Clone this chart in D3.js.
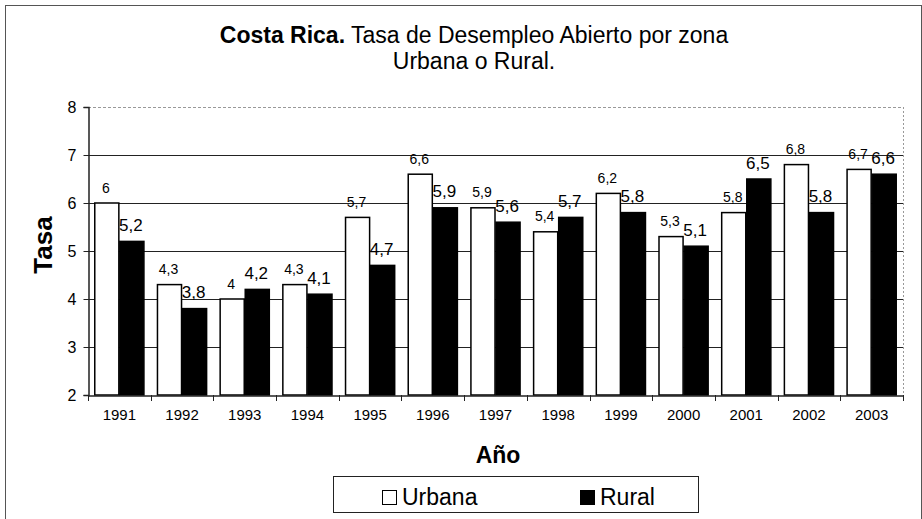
<!DOCTYPE html>
<html>
<head>
<meta charset="utf-8">
<script src="https://cdn.jsdelivr.net/npm/d3@7"></script>
<style>
  body { margin: 0; background: #fff; }
  svg text { font-family: "Liberation Sans", Arial, sans-serif; }
</style>
</head>
<body>
<div id="chart"></div>
<script>
// data
var years = ["1991","1992","1993","1994","1995","1996","1997","1998","1999","2000","2001","2002","2003"]
var urbana = [6, 4.3, 4, 4.3, 5.7, 6.6, 5.9, 5.4, 6.2, 5.3, 5.8, 6.8, 6.7]
var rural = [5.2, 3.8, 4.2, 4.1, 4.7, 5.9, 5.6, 5.7, 5.8, 5.1, 6.5, 5.8, 6.6]
var yTicks = [2, 3, 4, 5, 6, 7, 8]
var seriesNames = ["Urbana", "Rural"]

var sheet = {w: 922, h: 519, left: 88, right: 903, top: 107, bottom: 395}

var svg = d3.select("#chart").append("svg")
    .attr("width", sheet.w)
    .attr("height", sheet.h)

// outer frame
svg.append("rect")
    .attr("x", 5.5).attr("y", 5.5)
    .attr("width", sheet.w - 6).attr("height", sheet.h - 4)
    .attr("fill", "none")
    .attr("stroke", "#555")
    .attr("stroke-width", 1)

// title
var title = svg.append("text")
    .attr("x", 474).attr("y", 43)
    .attr("text-anchor", "middle")
    .style("font-size", "23px")
title.append("tspan").attr("font-weight", "bold").text("Costa Rica.")
title.append("tspan").text(" Tasa de Desempleo Abierto por zona")
svg.append("text")
    .attr("x", 474).attr("y", 69)
    .attr("text-anchor", "middle")
    .style("font-size", "23px")
    .text("Urbana o Rural.")

var x = d3.scaleBand()
    .domain(years)
    .range([sheet.left, sheet.right])
    .paddingInner(0.2)
    .paddingOuter(0.1)

var xs = d3.scaleBand()
    .domain(seriesNames)
    .range([0, x.bandwidth()])

var y = d3.scaleLinear()
    .domain([2, 8])
    .range([sheet.bottom, sheet.top])

// gridlines
svg.append("g")
    .selectAll("line")
    .data(yTicks.slice(1))
    .enter()
    .append("line")
    .attr("x1", sheet.left).attr("x2", sheet.right)
    .attr("y1", function(d){ return Math.round(y(d)) + 0.5 })
    .attr("y2", function(d){ return Math.round(y(d)) + 0.5 })
    .attr("stroke", function(d){ return d == 8 ? "#999" : "#222" })
    .attr("stroke-dasharray", function(d){ return d == 8 ? "3,2" : null })

// right border of plot
svg.append("line")
    .attr("x1", sheet.right + 0.5).attr("x2", sheet.right + 0.5)
    .attr("y1", sheet.top).attr("y2", sheet.bottom)
    .attr("stroke", "#999")
    .attr("stroke-dasharray", "2,2")

// bars
var rows = years.map(function(yr, i){
    return {year: yr, vals: [
        {name: "Urbana", v: urbana[i]},
        {name: "Rural", v: rural[i]}
    ]}
})

var groups = svg.append("g").selectAll("g")
    .data(rows)
    .enter()
    .append("g")
    .attr("transform", function(d){ return "translate(" + x(d.year) + ",0)" })

groups.selectAll("rect")
    .data(function(d){ return d.vals })
    .enter()
    .append("rect")
    .attr("x", function(d){ return xs(d.name) + 0.5 })
    .attr("y", function(d){ return y(d.v) })
    .attr("width", xs.bandwidth() - 1)
    .attr("height", function(d){ return sheet.bottom - y(d.v) })
    .attr("fill", function(d){ return d.name == "Urbana" ? "#fff" : "#000" })
    .attr("stroke", "#000")
    .attr("stroke-width", 1.5)

// value labels
groups.selectAll("text")
    .data(function(d){ return d.vals })
    .enter()
    .append("text")
    .attr("x", function(d){ return xs(d.name) + xs.bandwidth() / 2 - 1 })
    .attr("y", function(d){ return y(d.v) - 10.5 })
    .attr("text-anchor", "middle")
    .style("font-size", function(d){ return d.name == "Urbana" ? "14px" : "17px" })
    .text(function(d){ return String(d.v).replace(".", ",") })

// y axis
var yAxis = svg.append("g")
    .attr("transform", "translate(" + (sheet.left + 0.5) + ",0)")
    .call(d3.axisLeft(y).tickValues(yTicks).tickFormat(d3.format("d")).tickSize(5).tickPadding(7))
yAxis.select(".domain").attr("stroke", "#222").attr("stroke-width", 1.5)
yAxis.selectAll("line").attr("stroke", "#222")
yAxis.selectAll("text")
    .style("font-size", "16px")
    .style("font-family", "'Liberation Sans', Arial, sans-serif")
    .attr("fill", "#000")

// x axis
var xAxis = svg.append("g")
    .attr("transform", "translate(0," + (sheet.bottom + 0.5) + ")")
    .call(d3.axisBottom(x).tickSize(0).tickPadding(14))
xAxis.select(".domain").attr("stroke", "#222").attr("stroke-width", 1.5)
xAxis.selectAll("text")
    .style("font-size", "15px")
    .style("font-family", "'Liberation Sans', Arial, sans-serif")
    .attr("fill", "#000")

// tick marks between categories
svg.append("g").selectAll("line")
    .data(years.concat(["end"]))
    .enter()
    .append("line")
    .attr("x1", function(d, i){ return Math.round(sheet.left + i * x.step()) + 0.5 })
    .attr("x2", function(d, i){ return Math.round(sheet.left + i * x.step()) + 0.5 })
    .attr("y1", sheet.bottom).attr("y2", sheet.bottom + 6)
    .attr("stroke", "#222")

// axis titles
svg.append("text")
    .attr("transform", "translate(52,245) rotate(-90)")
    .attr("text-anchor", "middle")
    .attr("font-weight", "bold")
    .style("font-size", "26px")
    .text("Tasa")

svg.append("text")
    .attr("x", 498).attr("y", 463)
    .attr("text-anchor", "middle")
    .attr("font-weight", "bold")
    .style("font-size", "23px")
    .text("Año")

// legend
var legend = svg.append("g")
legend.append("rect")
    .attr("x", 333.5).attr("y", 476.5)
    .attr("width", 365).attr("height", 36)
    .attr("fill", "#fff")
    .attr("stroke", "#222")

var legendItems = legend.selectAll("g.item")
    .data(seriesNames)
    .enter()
    .append("g")
    .attr("class", "item")
    .attr("transform", function(d, i){ return "translate(" + (i == 0 ? 382 : 580) + ",490)" })
legendItems.append("rect")
    .attr("x", 0.5).attr("y", 0.5)
    .attr("width", 14).attr("height", 14)
    .attr("fill", function(d){ return d == "Urbana" ? "#fff" : "#000" })
    .attr("stroke", "#000")
legendItems.append("text")
    .attr("x", 20).attr("y", 15)
    .style("font-size", "23px")
    .text(function(d){ return d })
</script>
</body>
</html>
